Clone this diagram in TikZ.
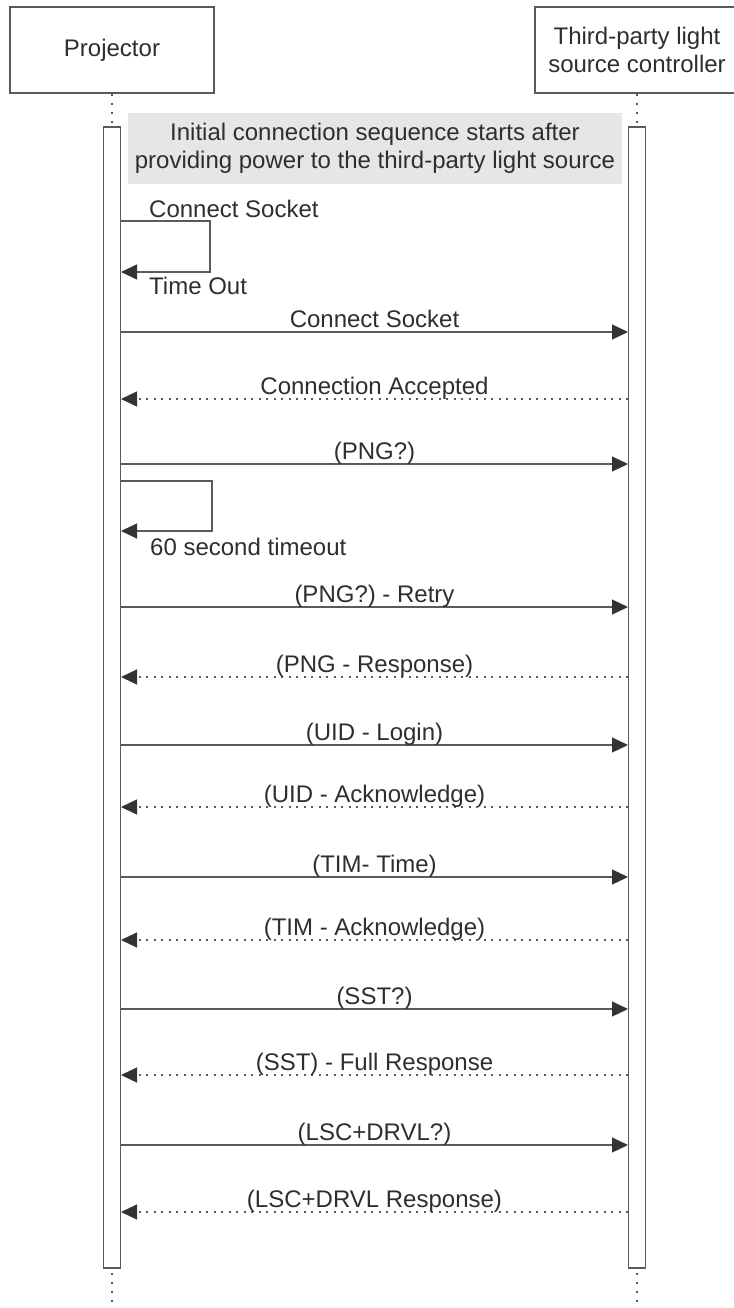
\documentclass[tikz,border=0pt]{standalone}
\usepackage{fontspec}
\setmainfont{Liberation Sans}
\usetikzlibrary{arrows.meta}
\definecolor{linegray}{HTML}{5A5A5A}
\definecolor{tipgray}{HTML}{333333}
\definecolor{notegray}{HTML}{E6E6E7}
\definecolor{textgray}{HTML}{2E2E2E}

\begin{document}
\begin{tikzpicture}[x=1pt,y=-1pt,
  actor/.style={draw=linegray,line width=1.2pt,fill=white,minimum width=204pt,minimum height=86pt,inner sep=0pt,align=center,text=textgray,font=\fontsize{24}{28}\selectfont},
  bar/.style={draw=linegray,line width=1.2pt,fill=white,minimum width=17pt,minimum height=1141pt,inner sep=0pt},
  life/.style={draw=linegray,line width=1.2pt,dash pattern=on 2pt off 7pt},
  msg/.style={draw=linegray,line width=1.2pt,-{Triangle[length=16pt,width=15pt,fill=tipgray,color=tipgray]}},
  reply/.style={msg,dash pattern=on 2pt off 5.5pt},
  lbl/.style={anchor=base,yshift=5pt,inner sep=0pt,text=textgray,font=\fontsize{24}{28}\selectfont},
  side/.style={anchor=base west,inner sep=0pt,text=textgray,font=\fontsize{24}{28}\selectfont}]
\useasboundingbox (0,0) rectangle (733,1308);

% participants
\node[actor] (proj) at (112,50) {Projector};
\node[actor] (ctrl) at (637,50) {Third-party light\\source controller};
\coordinate (projend) at (112,1308);
\coordinate (ctrlend) at (637,1308);
\draw[life] (proj.south) -- (projend);
\draw[life] (ctrl.south) -- (ctrlend);

% note
\node[fill=notegray,minimum width=494pt,minimum height=71pt,inner sep=0pt,align=center,text=textgray,font=\fontsize{24}{28}\selectfont] (note) at (375,148.5) {Initial connection sequence starts after\\providing power to the third-party light source};

% activation bars
\node[bar] (projbar) at (112,697.5) {};
\node[bar] (ctrlbar) at (637,697.5) {};

% first retry loop
\coordinate (la1) at (121,221);
\coordinate (lb1) at (210,221);
\coordinate (lc1) at (121,272);
\draw[msg] (la1) -- (lb1) |- (lc1);
\node[side] (cs1) at (149,217) {Connect Socket};
\node[side] (to1) at (149,294) {Time Out};

\coordinate (m1p) at (121,332); \coordinate (m1c) at (628,332);
\draw[msg] (m1p) -- node[lbl] (t1) {Connect Socket} (m1c);
\coordinate (m2p) at (121,399); \coordinate (m2c) at (628,399);
\draw[reply] (m2c) -- node[lbl] (t2) {Connection Accepted} (m2p);
\coordinate (m3p) at (121,464); \coordinate (m3c) at (628,464);
\draw[msg] (m3p) -- node[lbl] (t3) {(PNG?)} (m3c);

% second retry loop
\coordinate (la2) at (121,481);
\coordinate (lb2) at (212,481);
\coordinate (lc2) at (121,531);
\draw[msg] (la2) -- (lb2) |- (lc2);
\node[side] (to2) at (150,555) {60 second timeout};

\coordinate (m4p) at (121,607); \coordinate (m4c) at (628,607);
\draw[msg] (m4p) -- node[lbl] (t4) {(PNG?) - Retry} (m4c);
\coordinate (m5p) at (121,677); \coordinate (m5c) at (628,677);
\draw[reply] (m5c) -- node[lbl] (t5) {(PNG - Response)} (m5p);
\coordinate (m6p) at (121,745); \coordinate (m6c) at (628,745);
\draw[msg] (m6p) -- node[lbl] (t6) {(UID - Login)} (m6c);
\coordinate (m7p) at (121,807); \coordinate (m7c) at (628,807);
\draw[reply] (m7c) -- node[lbl] (t7) {(UID - Acknowledge)} (m7p);
\coordinate (m8p) at (121,877); \coordinate (m8c) at (628,877);
\draw[msg] (m8p) -- node[lbl] (t8) {(TIM- Time)} (m8c);
\coordinate (m9p) at (121,940); \coordinate (m9c) at (628,940);
\draw[reply] (m9c) -- node[lbl] (t9) {(TIM - Acknowledge)} (m9p);
\coordinate (m10p) at (121,1009); \coordinate (m10c) at (628,1009);
\draw[msg] (m10p) -- node[lbl] (t10) {(SST?)} (m10c);
\coordinate (m11p) at (121,1075); \coordinate (m11c) at (628,1075);
\draw[reply] (m11c) -- node[lbl] (t11) {(SST) - Full Response} (m11p);
\coordinate (m12p) at (121,1145); \coordinate (m12c) at (628,1145);
\draw[msg] (m12p) -- node[lbl] (t12) {(LSC+DRVL?)} (m12c);
\coordinate (m13p) at (121,1212); \coordinate (m13c) at (628,1212);
\draw[reply] (m13c) -- node[lbl] (t13) {(LSC+DRVL Response)} (m13p);

\end{tikzpicture}
\end{document}
